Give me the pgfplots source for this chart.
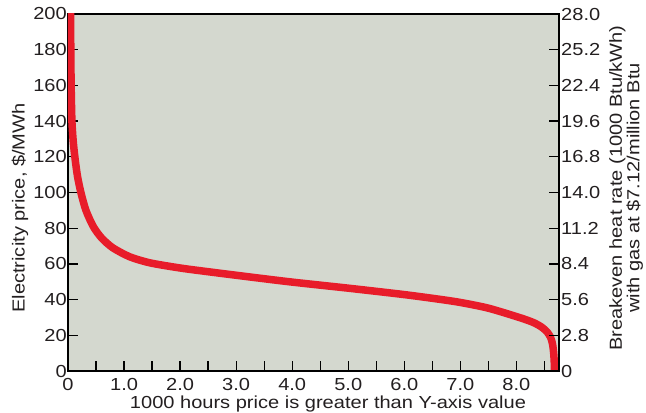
\documentclass[border=0pt]{standalone}
\usepackage{fontspec}
\setmainfont{Liberation Sans}[FakeStretch=1.15]
\usepackage{pgfplots}
\pgfplotsset{compat=1.18}
\definecolor{bgc}{RGB}{212,216,207}
\definecolor{redc}{RGB}{232,28,42}
\definecolor{txt}{RGB}{35,31,32}
\newcommand\lbl{\fontsize{17.5}{16}\selectfont}
\begin{document}
\begin{tikzpicture}
\useasboundingbox (-68bp,-42bp) rectangle (578bp,371bp);
\begin{axis}[
 scale only axis, width=491bp, height=357bp,
 at={(0,0)}, anchor=south west,
 xmin=0, xmax=8.76, ymin=0, ymax=200,
 axis background/.style={fill=bgc},
 axis line style={line width=1.3bp, black},
 tick style={line width=1.3bp, black},
 tick align=inside,
 major tick length=10bp, minor tick length=10bp,
 xtick={0,1,...,8}, xticklabels={0,1.0,2.0,3.0,4.0,5.0,6.0,7.0,8.0},
 minor xtick={0.5,1.5,...,8.5},
 ytick={0,20,...,200},
 xtick pos=bottom, ytick pos=left,
 /pgf/number format/assume math mode=true,
 tick label style={font=\lbl, text=txt},
 yticklabel style={inner sep=1bp},
 xticklabel style={inner sep=1bp, yshift=-6bp},
]
\addplot[redc, line width=7.5bp, line join=round, smooth, tension=0.45] coordinates {
(0.04,210) (0.045,200) (0.05,180) (0.056,160) (0.07,140) (0.095,128)
(0.13,118) (0.17,109) (0.23,100) (0.32,90) (0.45,81) (0.6,74.5)
(0.8,69) (1.1,64) (1.46,60.6) (2.0,57.7) (2.53,55.5) (3.24,52.7)
(4.0,49.8) (5.03,46.3) (6.0,42.8) (6.6,40.3) (7.0,38.4) (7.5,35.2)
(8.05,30) (8.3,27.2) (8.45,24.6) (8.55,21.8) (8.61,18.8) (8.645,15)
(8.665,10) (8.675,5) (8.68,0) (8.685,-5)
};
\end{axis}
\begin{axis}[
 scale only axis, width=491bp, height=357bp,
 at={(0,0)}, anchor=south west,
 xmin=0, xmax=8.76, ymin=0, ymax=28,
 axis x line=none, axis y line*=right,
 axis line style={line width=1.3bp, black},
 tick style={line width=1.3bp, black},
 tick align=inside, major tick length=10bp,
 ytick={0,2.8,5.6,8.4,11.2,14,16.8,19.6,22.4,25.2,28},
 yticklabels={0,2.8,5.6,8.4,11.2,14.0,16.8,19.6,22.4,25.2,28.0},
 /pgf/number format/assume math mode=true,
 tick label style={font=\lbl, text=txt},
 yticklabel style={inner sep=2bp},
]
\end{axis}
\node[rotate=90, font=\lbl, text=txt] at (-48bp,163bp) {Electricity price, \$/MWh};
\node[font=\lbl, text=txt] at (260bp,-32.5bp) {1000 hours price is greater than Y-axis value};
\node[rotate=90, font=\lbl, text=txt, align=center] at (558bp,183bp) {Breakeven heat rate (1000 Btu/kWh)\\with gas at \$7.12/million Btu};
\end{tikzpicture}
\end{document}
